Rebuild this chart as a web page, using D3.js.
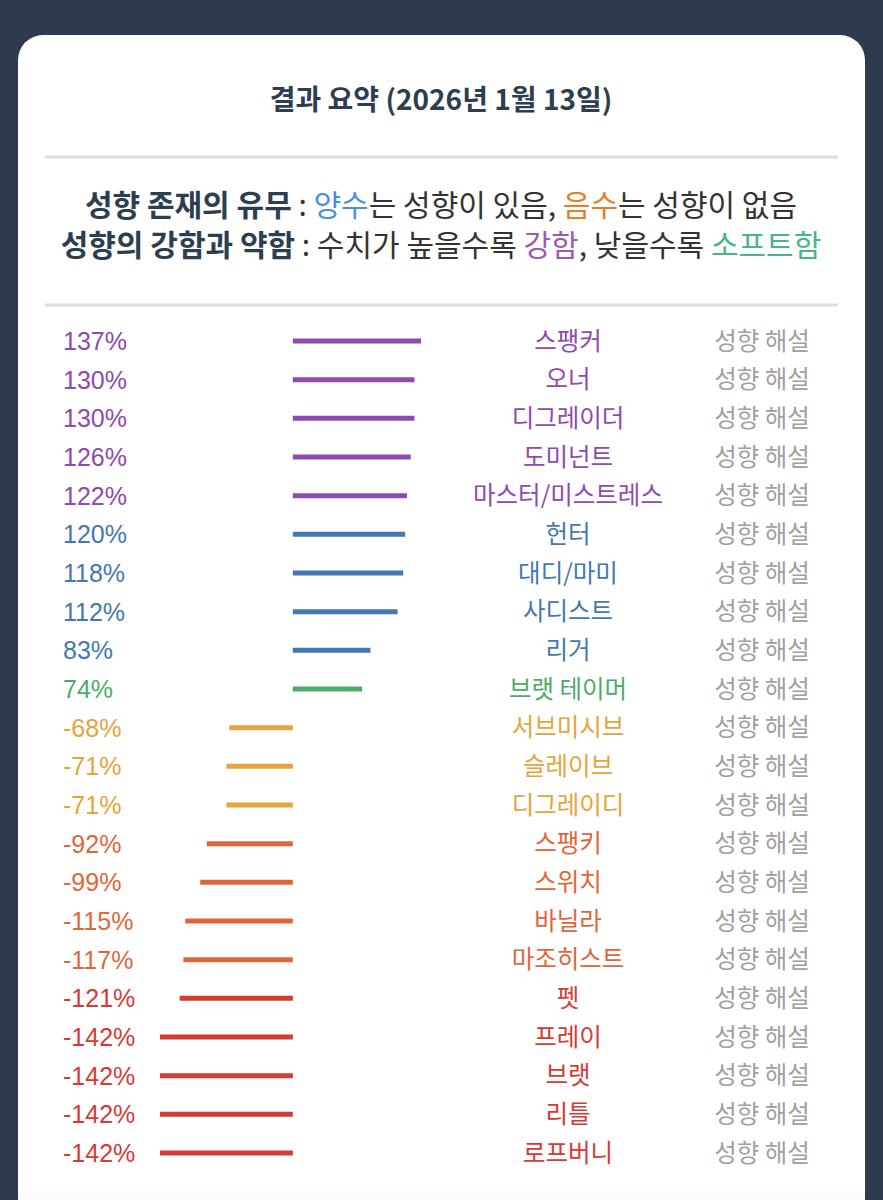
<!DOCTYPE html>
<html>
<head>
<meta charset="utf-8">
<script src="https://cdn.jsdelivr.net/npm/d3@7"></script>
<style>
  html, body { margin: 0; padding: 0; background: #2e3b4e; }
  svg { display: block; }
</style>
</head>
<body>
<script>
// chart values
const names = ['스팽커', '오너', '디그레이더', '도미넌트', '마스터/미스트레스', '헌터', '대디/마미', '사디스트', '리거',
    '브랫 테이머', '서브미시브', '슬레이브', '디그레이디', '스팽키', '스위치', '바닐라', '마조히스트', '펫',
    '프레이', '브랫', '리틀', '로프버니']
const values = [137, 130, 130, 126, 122, 120, 118, 112, 83, 74, -68, -71, -71, -92, -99, -115, -117, -121,
    -142, -142, -142, -142]
const groups = ['top', 'top', 'top', 'top', 'top', 'high', 'high', 'high', 'high', 'soft', 'low', 'low', 'low',
    'mid', 'mid', 'mid', 'mid', 'neg', 'neg', 'neg', 'neg', 'neg']
const groupNames = ['top', 'high', 'soft', 'low', 'mid', 'neg']
const groupColors = ['#8e4aae', '#4378b0', '#4dab68', '#e8a33a', '#e0663a', '#d63a35']

const data = names.map((n, i) => ({ name: n, value: values[i], group: groups[i] }))

const m = { width: 883, height: 1200 }

const svg = d3.select('body').append('svg')
    .attr('width', m.width)
    .attr('height', m.height)

// bottom of the card fades a little
const grad = svg.append('defs').append('linearGradient')
    .attr('id', 'card-fade')
    .attr('x1', 0).attr('y1', 0).attr('x2', 0).attr('y2', 1)
grad.append('stop').attr('offset', '0.96').attr('stop-color', '#ffffff')
grad.append('stop').attr('offset', '1').attr('stop-color', '#eeeeee')

svg.append('rect')
    .attr('width', m.width)
    .attr('height', m.height)
    .attr('fill', '#2e3b4e')

svg.append('rect')
    .attr('x', 18)
    .attr('y', 35)
    .attr('width', 847)
    .attr('height', 1200)
    .attr('rx', 25)
    .attr('fill', 'url(#card-fade)')

// title
svg.append('text')
    .attr('x', 441)
    .attr('y', 100)
    .attr('dy', '0.36em')
    .attr('text-anchor', 'middle')
    .attr('font-family', '"Noto Sans CJK KR", sans-serif')
    .attr('font-weight', 700)
    .attr('font-size', 28)
    .attr('fill', '#2c3e50')
    .text('결과 요약 (2026년 1월 13일)')

// dividers
svg.selectAll('line.divider')
    .data([157, 305])
    .join('line')
    .attr('class', 'divider')
    .attr('x1', 45).attr('x2', 838)
    .attr('y1', d => d).attr('y2', d => d)
    .attr('stroke', '#dddddd')
    .attr('stroke-width', 3)

// legend lines
const legend = [
    [['성향 존재의 유무', '#2c3e50', 700], [' : ', '#333', 400], ['양수', '#4a90d9', 400], ['는 성향이 있음, ', '#333', 400],
        ['음수', '#e67e22', 400], ['는 성향이 없음', '#333', 400]],
    [['성향의 강함과 약함', '#2c3e50', 700], [' : 수치가 높을수록 ', '#333', 400], ['강함', '#9b59b6', 400],
        [', 낮을수록 ', '#333', 400], ['소프트함', '#45b58b', 400]]
]
svg.selectAll('text.legend')
    .data(legend)
    .join('text')
    .attr('class', 'legend')
    .attr('x', 441)
    .attr('y', (d, i) => 205 + i * 40)
    .attr('dy', '0.36em')
    .attr('text-anchor', 'middle')
    .attr('font-family', '"Noto Sans CJK KR", sans-serif')
    .attr('font-size', 30)
    .attr('xml:space', 'preserve')
    .selectAll('tspan')
    .data(d => d)
    .join('tspan')
    .attr('fill', d => d[1])
    .attr('font-weight', d => d[2])
    .text(d => d[0])

// scales
const color = d3.scaleOrdinal().domain(groupNames).range(groupColors)

const xScale = d3.scaleLinear()
    .domain([-142, 137])
    .range([160, 421])

const yScale = d3.scalePoint()
    .domain(names)
    .range([341, 1153])

// bars
svg.selectAll('line.bar')
    .data(data)
    .join('line')
    .attr('class', 'bar')
    .attr('x1', xScale(0))
    .attr('x2', d => xScale(d.value))
    .attr('y1', d => yScale(d.name))
    .attr('y2', d => yScale(d.name))
    .attr('stroke', d => color(d.group))
    .attr('stroke-width', 5)

// value labels
svg.selectAll('text.value')
    .data(data)
    .join('text')
    .attr('class', 'value')
    .attr('x', 63)
    .attr('y', d => yScale(d.name))
    .attr('dy', '0.36em')
    .attr('font-family', '"Liberation Sans", Arial, sans-serif')
    .attr('font-size', 25)
    .attr('fill', d => color(d.group))
    .text(d => d.value + '%')

// names
svg.selectAll('text.name')
    .data(data)
    .join('text')
    .attr('class', 'name')
    .attr('x', 568)
    .attr('y', d => yScale(d.name))
    .attr('dy', '0.36em')
    .attr('text-anchor', 'middle')
    .attr('font-family', '"Noto Sans CJK KR", sans-serif')
    .attr('font-size', 24.5)
    .attr('fill', d => color(d.group))
    .text(d => d.name)

// link text
svg.selectAll('text.link')
    .data(data)
    .join('text')
    .attr('class', 'link')
    .attr('x', 762)
    .attr('y', d => yScale(d.name))
    .attr('dy', '0.36em')
    .attr('text-anchor', 'middle')
    .attr('font-family', '"Noto Sans CJK KR", sans-serif')
    .attr('font-size', 24.5)
    .attr('fill', '#a0a0a0')
    .text('성향 해설')
</script>
</body>
</html>
